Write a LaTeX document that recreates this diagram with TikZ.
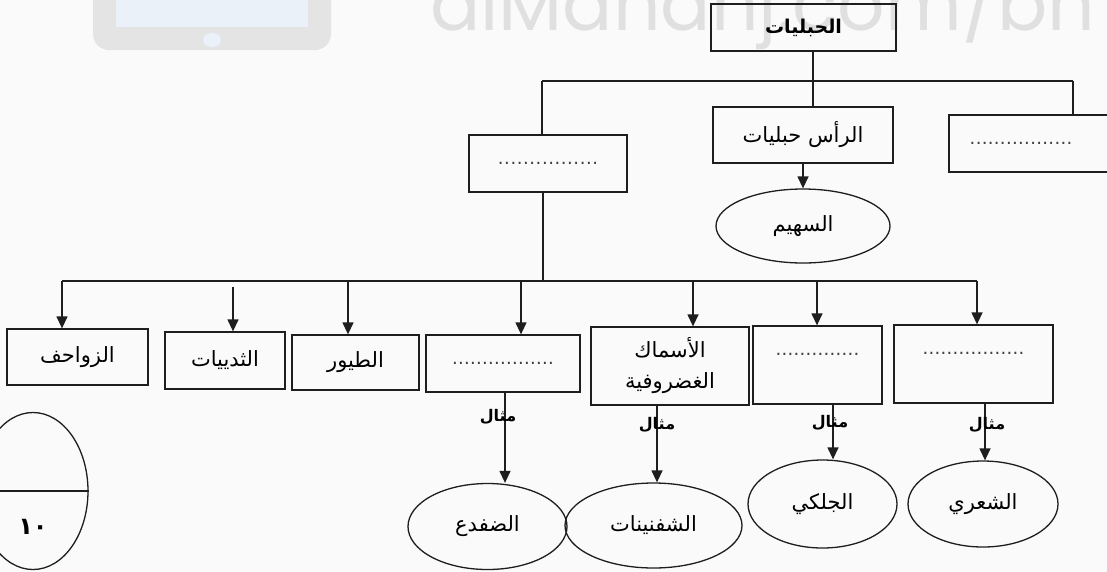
\documentclass[tikz,border=0pt]{standalone}
\usepackage{graphicx}
\usepackage{fontspec}
\setmainfont{Liberation Sans}
\newfontfamily\arabicfont[Script=Arabic]{DejaVu Sans}
\newfontfamily\markfont{Poppins}
\TeXXeTstate=1
\usetikzlibrary{arrows.meta,shapes.geometric}

\definecolor{paper}{HTML}{FAFAFA}
\definecolor{ink}{HTML}{1E1E1E}
\definecolor{wmgray}{HTML}{E4E4E4}
\definecolor{wmtext}{HTML}{E0E0E0}
\definecolor{wmblue}{HTML}{EAF1F9}

% right-to-left Arabic run
\newcommand\artext[1]{{\beginR #1\endR}}
% row of dots to be filled in
\newcommand\dotrow[1]{\hbox to #1{\fontsize{18}{20}\selectfont\color{ink!85}\xleaders\hbox to 6pt{\hss.\hss}\hfill}}

\begin{document}
\begin{tikzpicture}[x=1pt,y=-1pt,
  box/.style={draw=ink, line width=1.3pt, rectangle, inner sep=0pt, align=center,
              font=\arabicfont\fontsize{21}{31}\selectfont},
  oval/.style={draw=ink, line width=1.3pt, ellipse, inner sep=0pt,
              font=\arabicfont\fontsize{21}{24}\selectfont},
  link/.style={draw=ink, line width=1.3pt},
  arrow/.style={link, -{Triangle[length=12pt,width=11pt]}},
  example/.style={inner sep=0pt, font=\arabicfont\bfseries\fontsize{16}{18}\selectfont},
]
\useasboundingbox (0,0) rectangle (1107,571);
\clip (0,0) rectangle (1107,571);
\fill[paper] (0,0) rectangle (1107,571);

% faint site mark along the top edge
\fill[wmgray, rounded corners=16pt] (93,-40) rectangle (331,50);
\fill[wmblue] (116,-40) rectangle (308,27);
\fill[wmblue] (212,40) ellipse [x radius=9, y radius=7];
\node[anchor=base west, inner sep=0pt, text=wmtext] (mark) at (430,30)
  {\resizebox{665pt}{!}{\markfont alManahj.com/bh}};

% upper level
\node[box, minimum width=185pt, minimum height=47pt,
      font=\arabicfont\bfseries\fontsize{19}{22}\selectfont] (root) at (803.5,27.5) {\artext{الحبليات}};
\node[box, minimum width=180pt, minimum height=56pt] (head) at (803,135) {\artext{الرأس حبليات}};
\node[oval, minimum width=174pt, minimum height=74pt] (sahim) at (803,226) {\artext{السهيم}};
\node[box, minimum width=158pt, minimum height=57pt] (vert) at (548,163.5) {\dotrow{101pt}};
\node[box, minimum width=171pt, minimum height=57pt] (tail) at (1034.5,143.5) {\hbox{\dotrow{103pt}\hspace{27pt}}};

\coordinate (trunk) at (813,81);
\coordinate (hl) at (542,81);
\coordinate (hr) at (1073,81);
\draw[link] (root.south -| trunk) -- (head.north -| trunk);
\draw[link] (hl) -- (hr);
\draw[link] (hl) -- (vert.north -| hl);
\draw[link] (hr) -- (tail.north -| hr);
\draw[arrow] (head.south) -- (sahim.north);

% lower level
\node[box, minimum width=141pt, minimum height=56pt] (rept) at (77.5,357) {\artext{الزواحف}};
\node[box, minimum width=120pt, minimum height=57pt] (mamm) at (225,360.5) {\artext{الثدييات}};
\node[box, minimum width=127pt, minimum height=55pt] (bird) at (355.5,362.5) {\artext{الطيور}};
\node[box, minimum width=154pt, minimum height=57pt] (amph) at (503,363.5) {\dotrow{102pt}};
\node[box, minimum width=158pt, minimum height=78pt] (carti) at (670,366) {\artext{الأسماك}\\\artext{الغضروفية}};
\node[box, minimum width=129pt, minimum height=78pt, text height=4pt, text depth=24pt] (jawless) at (817.5,365) {\dotrow{84pt}};
\node[box, minimum width=159pt, minimum height=78pt, text height=4pt, text depth=24pt] (bony) at (973.5,364) {\dotrow{102pt}};

\coordinate (bj) at (543,281);
\coordinate (bl) at (62,281);
\coordinate (br) at (977,281);
\coordinate (a2) at (233,287);
\coordinate (a3) at (348,281);
\coordinate (a4) at (521,281);
\coordinate (a5) at (693,281);
\coordinate (a6) at (817,281);
\draw[link] (vert.south -| bj) -- (bj);
\draw[link] (bl) -- (br);
\draw[arrow] (bl) -- (rept.north -| bl);
\draw[arrow] (a2) -- (mamm.north -| a2);
\draw[arrow] (a3) -- (bird.north -| a3);
\draw[arrow] (a4) -- (amph.north -| a4);
\draw[arrow] (a5) -- (carti.north -| a5);
\draw[arrow] (a6) -- (jawless.north -| a6);
\draw[arrow] (br) -- (bony.north -| br);

% examples
\node[oval, minimum width=159pt, minimum height=86pt] (frog) at (487.5,526.5) {\artext{الضفدع}};
\node[oval, minimum width=177pt, minimum height=85pt] (ray) at (653.5,525.5) {\artext{الشفنينات}};
\node[oval, minimum width=149pt, minimum height=88pt] (lamprey) at (822.5,504) {\artext{الجلكي}};
\node[oval, minimum width=150pt, minimum height=86pt] (hag) at (983,504) {\artext{الشعري}};

\coordinate (e1) at (505,0);
\coordinate (e2) at (657,0);
\coordinate (e3) at (833,0);
\coordinate (e4) at (985,0);
\draw[arrow] (amph.south -| e1) -- (frog.north -| e1);
\draw[arrow] (carti.south -| e2) -- (ray.north -| e2);
\draw[arrow] (jawless.south -| e3) -- (lamprey.north -| e3);
\draw[arrow] (bony.south -| e4) -- (hag.north -| e4);
\node[example] (ex1) at (498,417) {\artext{مثال}};
\node[example] (ex2) at (657,425) {\artext{مثال}};
\node[example] (ex3) at (830,423) {\artext{مثال}};
\node[example] (ex4) at (987,425) {\artext{مثال}};

% score oval at the left edge
\node[draw=ink, line width=1.3pt, ellipse, inner sep=0pt, minimum width=110pt, minimum height=157pt] (score) at (33,491) {};
\draw[link] (score.west) -- (score.east);
\node[inner sep=0pt, font=\arabicfont\bfseries\fontsize{24}{26}\selectfont] (scoreval) at (33,527) {١٠};
\end{tikzpicture}
\end{document}
